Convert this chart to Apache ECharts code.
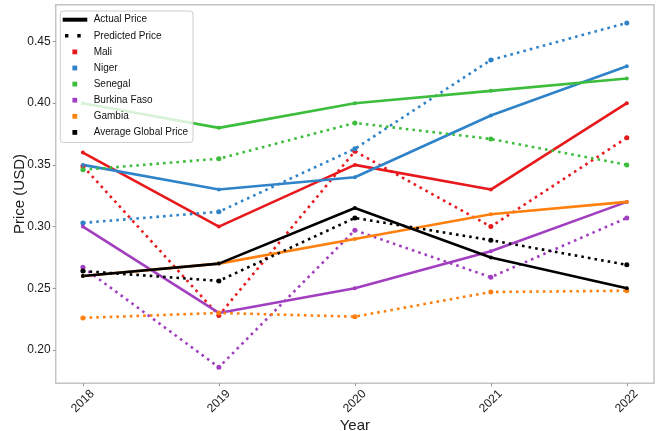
<!DOCTYPE html>
<html>
<head>
<meta charset="utf-8">
<script src="https://cdn.jsdelivr.net/npm/echarts@6/dist/echarts.min.js"></script>
<style>
  html, body { margin: 0; padding: 0; background: #fff; }
  #chart { width: 657px; height: 431px; }
</style>
</head>
<body>
<div id="chart"></div>
<script>
// Yearly rice prices (USD): actual vs. model prediction
const years = [2018, 2019, 2020, 2021, 2022];
const yTicks = [0.20, 0.25, 0.30, 0.35, 0.40, 0.45];

const maliActual       = [0.36, 0.30, 0.35, 0.33, 0.40];
const maliPredicted    = [0.349, 0.228, 0.361, 0.300, 0.372];
const nigerActual      = [0.35, 0.33, 0.34, 0.39, 0.43];
const nigerPredicted   = [0.303, 0.312, 0.363, 0.435, 0.465];
const senegalActual    = [0.40, 0.38, 0.40, 0.41, 0.42];
const senegalPredicted = [0.346, 0.355, 0.384, 0.371, 0.350];
const burkinaActual    = [0.30, 0.23, 0.25, 0.28, 0.32];
const burkinaPredicted = [0.267, 0.186, 0.297, 0.259, 0.307];
const gambiaActual     = [0.26, 0.27, 0.29, 0.31, 0.32];
const gambiaPredicted  = [0.226, 0.230, 0.227, 0.247, 0.248];
const globalActual     = [0.26, 0.27, 0.315, 0.275, 0.25];
const globalPredicted  = [0.264, 0.256, 0.307, 0.289, 0.269];

const groups = [
  { name: 'Mali',                 color: '#e8191c', actual: maliActual,    predicted: maliPredicted },
  { name: 'Niger',                color: '#2f83c8', actual: nigerActual,   predicted: nigerPredicted },
  { name: 'Senegal',              color: '#3cbd3c', actual: senegalActual, predicted: senegalPredicted },
  { name: 'Burkina Faso',         color: '#a23ec0', actual: burkinaActual, predicted: burkinaPredicted },
  { name: 'Gambia',               color: '#ff800e', actual: gambiaActual,  predicted: gambiaPredicted },
  { name: 'Average Global Price', color: '#000000', actual: globalActual,  predicted: globalPredicted }
];

const FONT = 'Liberation Sans, Arial, sans-serif';

// legend glyphs: each path spans the full 26x12 item box (corner moveTo points fix the extent)
const BOX = 'M0 0M26 12';
const ICON_SOLID  = 'path://' + BOX + 'M0 4h24.6v4h-24.6z';
const ICON_DOTTED = 'path://' + BOX + 'M2.3 4.3h3.4v3.4h-3.4zM14.6 4.3h3.4v3.4h-3.4z';
const ICON_SQUARE = 'path://' + BOX + 'M9.7 3.6h4.8v4.8h-4.8z';

const toPoints = vals => years.map((y, i) => [y, vals[i]]);

const series = [
  { name: 'Actual Price', type: 'line', data: [] },
  { name: 'Predicted Price', type: 'line', data: [] }
];
groups.forEach(g => {
  series.push({
    name: g.name, type: 'line', data: toPoints(g.actual),
    symbol: 'circle', symbolSize: 4, showSymbol: true,
    itemStyle: { color: g.color, borderWidth: 0 },
    lineStyle: { color: g.color, width: 2.6 },
    emphasis: { disabled: true }
  });
  series.push({
    name: g.name, type: 'line', data: toPoints(g.predicted),
    symbol: 'circle', symbolSize: 5, showSymbol: true,
    itemStyle: { color: g.color, borderWidth: 0 },
    lineStyle: { color: g.color, width: 2.6, type: [2.6, 4.1], cap: 'butt' },
    emphasis: { disabled: true }
  });
});

const legendData = [
  { name: 'Actual Price', icon: ICON_SOLID, itemStyle: { color: '#000', borderWidth: 0 } },
  { name: 'Predicted Price', icon: ICON_DOTTED, itemStyle: { color: '#000', borderWidth: 0 } }
].concat(groups.map(g => ({ name: g.name, icon: ICON_SQUARE, itemStyle: { color: g.color, borderWidth: 0 } })));

const chart = echarts.init(document.getElementById('chart'), null, { renderer: 'canvas' });
chart.setOption({
  animation: false,
  backgroundColor: '#fff',
  grid: {
    left: 55.7, top: 4.7, right: 3, bottom: 47.7,
    show: true, borderColor: '#c4c4c4', borderWidth: 1.5,
    outerBoundsMode: 'none'
  },
  legend: {
    orient: 'vertical', left: 60.3, top: 11,
    itemWidth: 26, itemHeight: 12, itemGap: 4.1,
    padding: [2.7, 5, 4, 2.4],
    backgroundColor: 'rgba(255,255,255,0.8)',
    borderColor: '#cccccc', borderWidth: 1, borderRadius: 3,
    selectedMode: false,
    itemStyle: { borderWidth: 0 },
    textStyle: { fontFamily: FONT, fontSize: 10, color: '#111', lineHeight: 12 },
    data: legendData
  },
  xAxis: {
    type: 'value', min: 2017.8, max: 2022.2,
    axisLine: { show: false },
    splitLine: { show: false },
    axisTick: { show: true, customValues: years, length: 3, lineStyle: { color: '#999' } },
    axisLabel: {
      customValues: years, rotate: 45, margin: 18,
      align: 'center', verticalAlign: 'middle',
      fontFamily: FONT, fontSize: 12, color: '#1a1a1a',
      formatter: v => String(Math.round(v))
    },
    name: 'Year', nameLocation: 'middle', nameGap: 35, nameMoveOverlap: false,
    nameTextStyle: { fontFamily: FONT, fontSize: 15, color: '#1a1a1a' }
  },
  yAxis: {
    type: 'value', min: 0.173, max: 0.4798,
    axisLine: { show: false },
    splitLine: { show: false },
    axisTick: { show: true, customValues: yTicks, length: 3, lineStyle: { color: '#999' } },
    axisLabel: {
      customValues: yTicks, margin: 5,
      fontFamily: FONT, fontSize: 12, color: '#1a1a1a',
      formatter: v => v.toFixed(2)
    },
    name: 'Price (USD)', nameLocation: 'middle', nameGap: 28, nameMoveOverlap: false,
    nameTextStyle: { fontFamily: FONT, fontSize: 15, color: '#1a1a1a' }
  },
  series: series
});
</script>
</body>
</html>
